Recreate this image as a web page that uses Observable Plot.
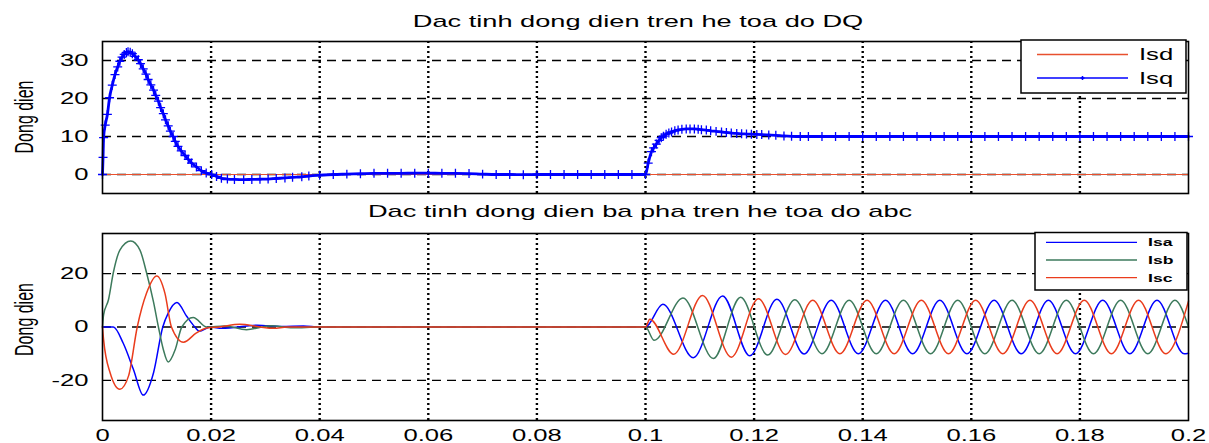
<!DOCTYPE html>
<html><head><meta charset="utf-8">
<script src="https://cdn.jsdelivr.net/npm/d3@7"></script>
<script src="https://cdn.jsdelivr.net/npm/@observablehq/plot@0.6"></script>
<style>
body{margin:0;background:#fff;}
#chart{width:1209px;height:443px;position:relative;overflow:hidden;background:#fff;}
#chart svg{display:block;overflow:visible;}
</style></head><body><div id="chart"></div>
<script>
// ---------- data ----------
const xTicks = [0, 0.02, 0.04, 0.06, 0.08, 0.1, 0.12, 0.14, 0.16, 0.18, 0.2];
const xTickLabels = ["0", "0.02", "0.04", "0.06", "0.08", "0.1", "0.12", "0.14", "0.16", "0.18", "0.2"];
const xGridTicks = [0.02, 0.04, 0.06, 0.08, 0.1, 0.12, 0.14, 0.16, 0.18];
const topYTicks = [0, 10, 20, 30];
const bottomYTicks = [-20, 0, 20];
const topTitle = "Dac tinh dong dien tren he toa do DQ";
const bottomTitle = "Dac tinh dong dien ba pha tren he toa do abc";
const yLabel = "Dong dien";
const dqNames = ["Isd", "Isq"];
const abcNames = ["Isa", "Isb", "Isc"];

// [time, current]
const isdPoints = [[0, 0], [0.2, 0]];
const isqPoints = [
  [0,0],[0.0001,4.5],[0.0002,9.7],[0.0005,13],[0.0009,15.8],[0.0013,20.2],[0.0018,23.5],[0.0023,26.3],
  [0.0028,28.3],[0.0032,29.8],[0.0036,30.9],[0.004,31.6],[0.0044,32.1],[0.0047,32.3],[0.0051,32.2],
  [0.0055,31.8],[0.006,31.1],[0.0066,30.2],[0.007,29.2],[0.0075,27.8],[0.008,26.4],[0.0084,25],
  [0.0089,23.6],[0.0094,22.2],[0.0098,20.8],[0.0103,19.3],[0.0107,17.6],[0.0112,16],[0.0116,14.4],
  [0.0121,12.8],[0.0125,11.4],[0.013,10],[0.0134,8.7],[0.0139,7.4],[0.0145,6.2],[0.0152,5],[0.0158,4],
  [0.0164,3],[0.0173,2],[0.0182,1],[0.0191,0.4],[0.0201,0],[0.021,-0.5],[0.0219,-1],[0.023,-1.2],
  [0.0243,-1.3],[0.026,-1.35],[0.0275,-1.3],[0.029,-1.25],[0.0305,-1.2],[0.032,-1.05],[0.0336,-0.9],
  [0.035,-0.75],[0.0367,-0.6],[0.038,-0.4],[0.04,-0.2],[0.0425,0],[0.045,0.1],[0.0475,0.2],[0.05,0.3],
  [0.0525,0.3],[0.055,0.3],[0.0575,0.35],[0.06,0.35],[0.0625,0.3],[0.065,0.3],[0.0675,0.25],[0.07,0.1],
  [0.0725,0],[0.075,0],[0.0775,-0.05],[0.08,0],[0.0825,0],[0.085,0],[0.0875,0],[0.09,0],[0.0925,0],
  [0.095,0],[0.0975,0],[0.1,0],[0.1005,3],[0.1011,6],[0.1015,7],[0.102,8],[0.1025,9],[0.1029,9.7],
  [0.1033,10.1],[0.1038,10.6],[0.1043,10.9],[0.1048,11.2],[0.1054,11.5],[0.106,11.7],[0.1067,11.9],
  [0.1075,12],[0.1082,12],[0.109,12],[0.1097,11.9],[0.1103,11.8],[0.1112,11.7],[0.112,11.5],
  [0.113,11.35],[0.114,11.2],[0.1149,11.05],[0.1158,10.9],[0.1168,10.8],[0.1177,10.7],[0.1186,10.65],
  [0.1195,10.6],[0.1205,10.55],[0.1214,10.5],[0.1227,10.4],[0.124,10.3],[0.1255,10.15],[0.1269,10.05],
  [0.1285,10],[0.13,10],[0.1325,10],[0.135,10],[0.1375,10],[0.14,10],[0.1425,10],[0.145,10],[0.1475,10],
  [0.15,10],[0.1525,10],[0.155,10],[0.1575,10],[0.16,10],[0.1625,10],[0.165,10],[0.1675,10],[0.17,10],
  [0.1725,10],[0.175,10],[0.1775,10],[0.18,10],[0.1825,10],[0.185,10],[0.1875,10],[0.19,10],[0.1925,10],
  [0.195,10],[0.1975,10],[0.2,10]
];
const isaPoints = [
  [0,0],[0.002,0],[0.0038,-6],[0.0057,-15.9],[0.0075,-25.5],[0.0094,-17.1],[0.0111,0],[0.0121,5.2],
  [0.0137,9.2],[0.0155,4],[0.017,0],[0.0178,-1.6],[0.0199,0],[0.022,-0.5],[0.0285,0.7],[0.033,0.2],
  [0.037,0.4],[0.04,0],[0.1,0],[0.1032,8.5],[0.1088,-11.5],[0.1142,11.6],[0.1192,-10.8],[0.1242,10.4],
  [0.1292,-10.1],[0.1342,10],[0.1392,-10],[0.1442,10],[0.1492,-10],[0.1542,10],[0.1592,-10],[0.1642,10],
  [0.1692,-10],[0.1742,10],[0.1792,-10],[0.1842,10],[0.1892,-10],[0.1942,10],[0.1992,-10],[0.2,-9.8]
];
const isbPoints = [
  [0,0],[0.0002,4.5],[0.0011,10.2],[0.002,20.4],[0.0032,28.8],[0.0052,32.2],[0.0069,28.8],[0.0081,20.4],
  [0.0094,9.3],[0.0103,0],[0.0112,-8.4],[0.0121,-13.1],[0.0134,-8.4],[0.0146,0],[0.0167,3.6],[0.0192,0],
  [0.0225,0.4],[0.0265,-1],[0.031,0.5],[0.035,-0.3],[0.04,0],[0.1,0],[0.1016,-5],[0.1069,10.9],
  [0.1125,-11.8],[0.1175,11.1],[0.1225,-10.5],[0.1275,10.2],[0.1325,-10],[0.1375,10],[0.1425,-10],
  [0.1475,10],[0.1525,-10],[0.1575,10],[0.1625,-10],[0.1675,10],[0.1725,-10],[0.1775,10],[0.1825,-10],
  [0.1875,10],[0.1925,-10],[0.1975,10],[0.2,0]
];
const iscPoints = [
  [0,0],[0.0002,-4.7],[0.0014,-17.1],[0.0032,-23.3],[0.0048,-18.3],[0.0064,0],[0.0081,12.6],[0.01,19.1],
  [0.0115,12.6],[0.0127,0],[0.0149,-5.7],[0.0173,-2.2],[0.0192,-0.4],[0.0215,0],[0.0253,1],[0.029,0],
  [0.0315,-0.5],[0.034,0],[0.04,0],[0.1,0],[0.1008,2.9],[0.1052,-10.2],[0.1105,11.8],[0.1158,-11.3],
  [0.1208,10.6],[0.1258,-10.3],[0.1308,10],[0.1358,-10],[0.1408,10],[0.1458,-10],[0.1508,10],[0.1558,-10],
  [0.1608,10],[0.1658,-10],[0.1708,10],[0.1758,-10],[0.1808,10],[0.1858,-10],[0.1908,10],[0.1958,-10],
  [0.2,9.7]
];

// ---------- styles ----------
const colors = {Isd: "#e8502e", Isq: "#0000ff", Isa: "#0000ff", Isb: "#3d7a5c", Isc: "#ea3c1c"};
const FONT = "'Liberation Sans', Arial, Helvetica, sans-serif";
const STRETCH = 1.6;
const W = 1209, ML = 102, MR = 21;

const toRows = (pts, name) => pts.map(([t, v]) => ({t, v, s: name}));
const isdRows = toRows(isdPoints, "Isd");
const isqRows = toRows(isqPoints, "Isq");
const isaRows = toRows(isaPoints, "Isa");
const isbRows = toRows(isbPoints, "Isb");
const iscRows = toRows(iscPoints, "Isc");

const gridXOpts = {stroke: "#000", strokeOpacity: 1, strokeWidth: 2.4, strokeDasharray: "2,3"};
const gridYOpts = {stroke: "#000", strokeOpacity: 1, strokeWidth: 1.3, strokeDasharray: "9,6"};
const yAxisOpts = {tickSize: 0, tickPadding: 14, fontSize: 16, label: null, tickFormat: d => String(d)};

const topPlot = Plot.plot({
  width: W, height: 200, marginLeft: ML, marginRight: MR, marginTop: 41, marginBottom: 7,
  style: {fontFamily: FONT, fontSize: "16px", color: "#000", background: "#fff"},
  x: {domain: [0, 0.2], axis: null},
  y: {domain: [-5, 35], axis: null},
  marks: [
    Plot.gridX(xGridTicks, gridXOpts),
    Plot.gridY(topYTicks, gridYOpts),
    Plot.axisY(topYTicks, yAxisOpts),
    Plot.line(isdRows, {x: "t", y: "v", stroke: colors.Isd, strokeWidth: 1.2}),
    Plot.line(isqRows, {x: "t", y: "v", stroke: colors.Isq, strokeWidth: 2.8, curve: "monotone-x"}),
    Plot.dot(isqRows, {x: "t", y: "v", stroke: colors.Isq, symbol: "plus", r: 3, strokeWidth: 1.3}),
    Plot.frame({stroke: "#000", strokeWidth: 1.6})
  ]
});

const bottomPlot = Plot.plot({
  width: W, height: 243, marginLeft: ML, marginRight: MR, marginTop: 33, marginBottom: 23,
  style: {fontFamily: FONT, fontSize: "16px", color: "#000", background: "#fff"},
  x: {domain: [0, 0.2], axis: null},
  y: {domain: [-35, 35], axis: null},
  marks: [
    Plot.gridX(xGridTicks, gridXOpts),
    Plot.gridY(bottomYTicks, gridYOpts),
    Plot.axisY(bottomYTicks, yAxisOpts),
    Plot.axisX(xTicks, {tickSize: 0, tickPadding: 9, fontSize: 16, label: null,
      tickFormat: d => xTickLabels[xTicks.indexOf(d)]}),
    Plot.line(isaRows, {x: "t", y: "v", stroke: colors.Isa, strokeWidth: 1.5, curve: "monotone-x"}),
    Plot.line(isbRows, {x: "t", y: "v", stroke: colors.Isb, strokeWidth: 1.5, curve: "monotone-x"}),
    Plot.line(iscRows, {x: "t", y: "v", stroke: colors.Isc, strokeWidth: 1.5, curve: "monotone-x"}),
    Plot.frame({stroke: "#000", strokeWidth: 1.6})
  ]
});

const chart = document.getElementById("chart");
chart.appendChild(topPlot);
chart.appendChild(bottomPlot);

// stretch Plot's own axis labels horizontally, as in the reference picture
[topPlot, bottomPlot].forEach(svg => {
  svg.querySelectorAll("text").forEach(t => {
    const len = t.getComputedTextLength();
    if (len > 0) {
      t.setAttribute("textLength", len * STRETCH);
      t.setAttribute("lengthAdjust", "spacingAndGlyphs");
    }
  });
});

// text added by hand: wrapped in a horizontally scaled group
function addText(svg, str, x, y, size, anchor, weight, rotate) {
  d3.select(svg).append("text")
    .attr("transform", `translate(${x},${y}) scale(${STRETCH},1)` + (rotate ? ` rotate(${rotate})` : ""))
    .attr("text-anchor", anchor)
    .attr("font-family", FONT).attr("font-size", size).attr("font-weight", weight || "normal")
    .attr("fill", "#000").text(str);
}
function legend(svg, box, names, ys, lineX, textX, size, weight, markerName, baseShift) {
  const g = d3.select(svg).append("g");
  g.append("rect").attr("x", box[0]).attr("y", box[1]).attr("width", box[2]).attr("height", box[3])
    .attr("fill", "#fff").attr("stroke", "#000").attr("stroke-width", 1.5);
  names.forEach((n, i) => {
    g.append("line").attr("x1", lineX[0]).attr("x2", lineX[1]).attr("y1", ys[i]).attr("y2", ys[i])
      .attr("stroke", colors[n]).attr("stroke-width", 1.3);
    if (n === markerName) {
      const cx = (lineX[0] + lineX[1]) / 2;
      g.append("path").attr("d", `M${cx - 2},${ys[i]}h4M${cx},${ys[i] - 2}v4`)
        .attr("stroke", colors[n]).attr("stroke-width", 1.5);
    }
  });
  names.forEach((n, i) => addText(svg, n, textX, ys[i] + baseShift, size, "start", weight));
}

addText(topPlot, topTitle, 638, 27, 17, "middle");
addText(topPlot, yLabel, 33, 117, 16, "middle", "normal", -90);
legend(topPlot, [1021, 40, 165, 53], dqNames, [54.5, 78], [1037, 1128], 1139, 16, "normal", "Isq", 5.5);

addText(bottomPlot, bottomTitle, 640, 16.5, 17, "middle");
addText(bottomPlot, yLabel, 33, 119.5, 16, "middle", "normal", -90);
legend(bottomPlot, [1035, 32.5, 152, 57.5], abcNames, [42.3, 60, 77.7], [1046, 1137], 1148, 11, "bold", null, 4);
</script>
</body></html>
